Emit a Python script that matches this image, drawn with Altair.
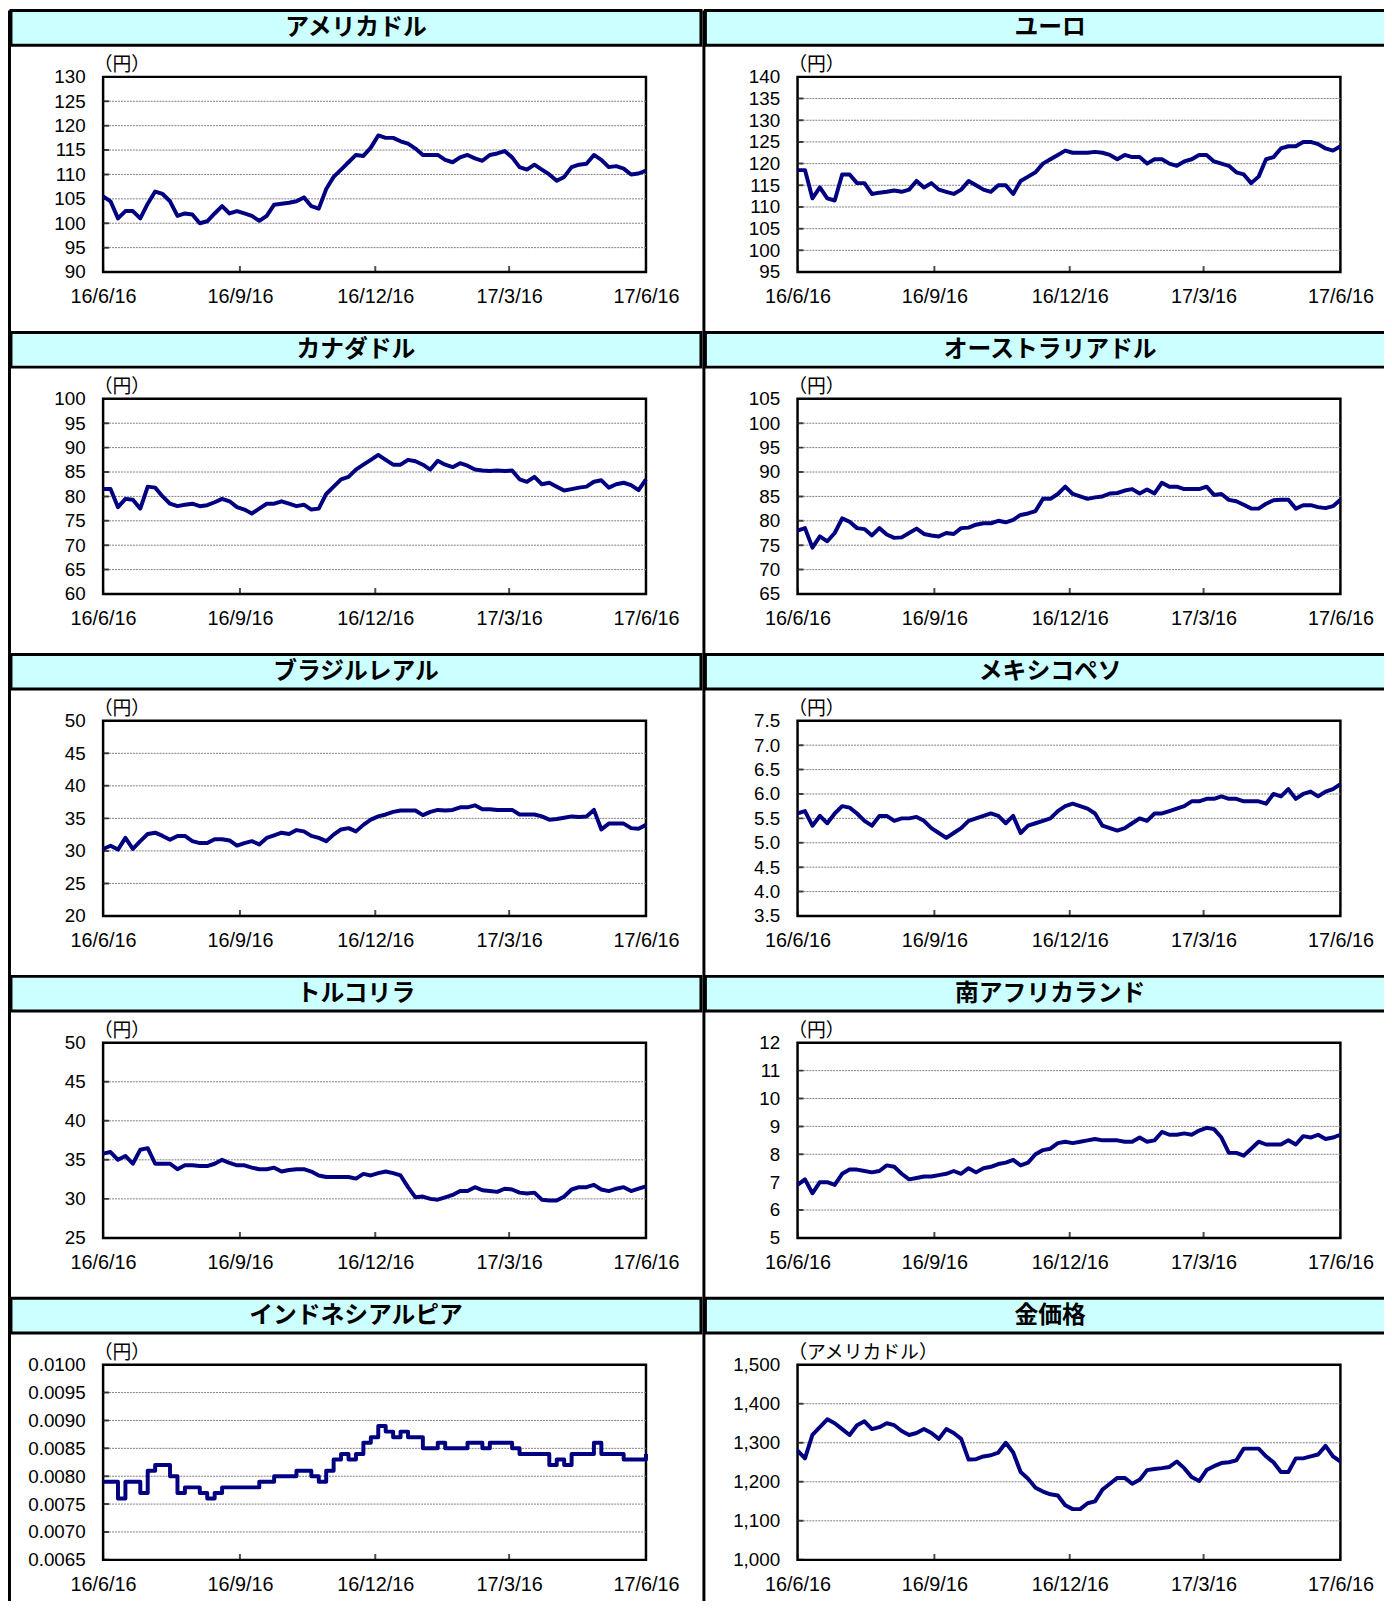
import altair as alt
import pandas as pd

JP = "Noto Sans CJK JP"
NUM = "Liberation Sans"

DATES = pd.date_range("2016-06-16", "2017-06-16", freq="5D").strftime("%Y/%m/%d").tolist()
XTICK_STR = ["2016/06/16", "2016/09/16", "2016/12/16", "2017/03/16", "2017/06/16"]
XTICKS = [alt.DateTime(year=2016, month=6, date=16), alt.DateTime(year=2016, month=9, date=16),
          alt.DateTime(year=2016, month=12, date=16), alt.DateTime(year=2017, month=3, date=16),
          alt.DateTime(year=2017, month=6, date=16)]

usd = [105.5, 104.5, 101, 102.5, 102.5, 101, 104, 106.5, 106, 104.5,
       101.5, 102, 101.8, 100, 100.4, 102, 103.5, 102, 102.5, 102,
       101.5, 100.5, 101.5, 103.8, 104, 104.2, 104.5, 105.3, 103.5, 103,
       107, 109.5, 111, 112.5, 114, 113.8, 115.5, 118, 117.5, 117.5,
       116.8, 116.3, 115.3, 114, 114, 114, 113, 112.5, 113.5, 114,
       113.3, 112.8, 114, 114.3, 114.8, 113.5, 111.5, 111, 112, 111,
       110, 108.7, 109.5, 111.5, 112, 112.2, 114, 113, 111.5, 111.7,
       111.2, 110, 110.2, 110.8]
eur = [118.5, 118.5, 112, 114.5, 112, 111.5, 117.5, 117.5, 115.5, 115.5,
       113, 113.3, 113.5, 113.8, 113.5, 114, 116, 114.5, 115.5, 114,
       113.5, 113, 114, 116, 115, 114, 113.5, 115, 115, 113,
       116, 117, 118, 120, 121, 122, 123, 122.5, 122.5, 122.5,
       122.7, 122.5, 122, 121, 122, 121.5, 121.5, 120, 121, 121,
       120, 119.5, 120.5, 121, 122, 122, 120.5, 120, 119.5, 118,
       117.5, 115.5, 117, 121, 121.5, 123.5, 124, 124, 125, 125,
       124.5, 123.5, 123, 124]
cad = [81.5, 81.5, 77.8, 79.5, 79.3, 77.5, 82, 81.8, 80, 78.5,
       78, 78.3, 78.5, 78, 78.2, 78.8, 79.5, 79, 77.8, 77.3,
       76.5, 77.5, 78.5, 78.5, 79, 78.5, 78, 78.3, 77.3, 77.5,
       80.5, 82, 83.5, 84, 85.5, 86.5, 87.5, 88.5, 87.5, 86.5,
       86.5, 87.5, 87.2, 86.5, 85.5, 87.3, 86.5, 86, 86.8, 86.3,
       85.5, 85.3, 85.2, 85.3, 85.2, 85.3, 83.5, 83, 84, 82.5,
       82.8, 82, 81.2, 81.5, 81.8, 82, 83, 83.3, 81.8, 82.5,
       82.8, 82.3, 81.3, 83.5]
aud = [78, 78.5, 74.5, 76.8, 75.8, 77.5, 80.5, 79.8, 78.5, 78.3,
       77, 78.5, 77.2, 76.5, 76.6, 77.5, 78.4, 77.3, 77, 76.8,
       77.5, 77.3, 78.5, 78.6, 79.2, 79.5, 79.5, 80, 79.7, 80.2,
       81.2, 81.5, 82, 84.5, 84.5, 85.5, 87, 85.5, 85, 84.5,
       84.8, 85, 85.6, 85.7, 86.2, 86.5, 85.6, 86.4, 85.6, 87.8,
       87, 87, 86.5, 86.5, 86.5, 87, 85.3, 85.5, 84.3, 84,
       83.3, 82.5, 82.5, 83.5, 84.2, 84.3, 84.3, 82.5, 83.2, 83.2,
       82.8, 82.6, 83, 84.3]
brl = [30.3, 30.8, 30.2, 32, 30.3, 31.5, 32.6, 32.8, 32.3, 31.7,
       32.3, 32.3, 31.5, 31.2, 31.2, 31.8, 31.8, 31.6, 30.8, 31.2,
       31.5, 31, 32, 32.4, 32.8, 32.6, 33.2, 33, 32.3, 32,
       31.5, 32.5, 33.3, 33.5, 33, 34, 34.8, 35.3, 35.6, 36,
       36.2, 36.2, 36.2, 35.5, 36, 36.3, 36.2, 36.3, 36.7, 36.7,
       37, 36.4, 36.4, 36.3, 36.3, 36.3, 35.6, 35.6, 35.6, 35.3,
       34.8, 34.9, 35.1, 35.3, 35.2, 35.3, 36.3, 33.3, 34.2, 34.2,
       34.2, 33.5, 33.4, 34]
mxn = [5.6, 5.65, 5.35, 5.55, 5.4, 5.6, 5.75, 5.72, 5.6, 5.45,
       5.35, 5.55, 5.55, 5.45, 5.5, 5.5, 5.53, 5.45, 5.3, 5.2,
       5.1, 5.2, 5.3, 5.45, 5.5, 5.55, 5.6, 5.55, 5.4, 5.55,
       5.2, 5.35, 5.4, 5.45, 5.5, 5.65, 5.75, 5.8, 5.75, 5.7,
       5.6, 5.35, 5.3, 5.25, 5.3, 5.4, 5.5, 5.45, 5.6, 5.6,
       5.65, 5.7, 5.75, 5.85, 5.85, 5.9, 5.9, 5.95, 5.9, 5.9,
       5.85, 5.85, 5.85, 5.8, 6.0, 5.95, 6.1, 5.9, 6.0, 6.05,
       5.95, 6.05, 6.1, 6.2]
tryl = [35.8, 36, 35, 35.5, 34.5, 36.3, 36.5, 34.5, 34.5, 34.5,
        33.8, 34.3, 34.3, 34.2, 34.2, 34.5, 35, 34.6, 34.3, 34.3,
        34, 33.8, 33.8, 34, 33.5, 33.7, 33.8, 33.8, 33.5, 33,
        32.8, 32.8, 32.8, 32.8, 32.6, 33.2, 33, 33.3, 33.5, 33.3,
        33, 31.5, 30.2, 30.3, 30, 29.9, 30.2, 30.5, 31, 31,
        31.5, 31.1, 31, 30.9, 31.3, 31.2, 30.8, 30.7, 30.8, 29.9,
        29.8, 29.8, 30.3, 31.2, 31.5, 31.5, 31.8, 31.2, 31, 31.3,
        31.5, 31, 31.3, 31.6]
zar = [6.9, 7.1, 6.6, 7.0, 7.0, 6.9, 7.3, 7.45, 7.45, 7.4,
       7.35, 7.4, 7.6, 7.55, 7.3, 7.1, 7.15, 7.2, 7.2, 7.25,
       7.3, 7.4, 7.3, 7.5, 7.35, 7.5, 7.55, 7.65, 7.7, 7.8,
       7.6, 7.7, 8.0, 8.15, 8.2, 8.4, 8.45, 8.4, 8.45, 8.5,
       8.55, 8.5, 8.5, 8.5, 8.45, 8.45, 8.6, 8.45, 8.5, 8.8,
       8.7, 8.7, 8.75, 8.7, 8.85, 8.95, 8.9, 8.6, 8.05, 8.05,
       7.95, 8.2, 8.45, 8.35, 8.35, 8.35, 8.5, 8.35, 8.65, 8.6,
       8.7, 8.55, 8.6, 8.7]
idr = [0.0079, 0.0079, 0.0076, 0.0079, 0.0079, 0.0077, 0.0081, 0.0082, 0.0082, 0.0080,
       0.0077, 0.0078, 0.0078, 0.0077, 0.0076, 0.0077, 0.0078, 0.0078, 0.0078, 0.0078,
       0.0078, 0.0079, 0.0079, 0.0080, 0.0080, 0.0080, 0.0081, 0.0081, 0.0080, 0.0079,
       0.0081, 0.0083, 0.0084, 0.0083, 0.0084, 0.0086, 0.0087, 0.0089, 0.0088, 0.0087,
       0.0088, 0.0087, 0.0087, 0.0085, 0.0085, 0.0086, 0.0085, 0.0085, 0.0085, 0.0086,
       0.0086, 0.0085, 0.0086, 0.0086, 0.0086, 0.0085, 0.0084, 0.0084, 0.0084, 0.0084,
       0.0082, 0.0083, 0.0082, 0.0084, 0.0084, 0.0084, 0.0086, 0.0084, 0.0084, 0.0084,
       0.0083, 0.0083, 0.0083, 0.0084]
gold = [1280, 1260, 1320, 1340, 1360, 1350, 1335, 1320, 1345, 1355,
        1335, 1340, 1350, 1345, 1330, 1320, 1325, 1335, 1325, 1310,
        1335, 1325, 1310, 1257, 1258, 1265, 1268, 1275, 1300, 1275,
        1225, 1208, 1185, 1175, 1168, 1165, 1140, 1130, 1130, 1145,
        1150, 1180, 1195, 1210, 1210, 1195, 1205, 1230, 1233, 1235,
        1238, 1252, 1235, 1212, 1202, 1230, 1240, 1248, 1250, 1255,
        1285, 1285, 1285, 1265, 1250, 1225, 1225, 1260, 1260, 1265,
        1270, 1292, 1265, 1252]

T_USD = [90, 95, 100, 105, 110, 115, 120, 125, 130]
T_EUR = [95, 100, 105, 110, 115, 120, 125, 130, 135, 140]
T_CAD = [60, 65, 70, 75, 80, 85, 90, 95, 100]
T_AUD = [65, 70, 75, 80, 85, 90, 95, 100, 105]
T_BRL = [20, 25, 30, 35, 40, 45, 50]
T_MXN = [3.5, 4.0, 4.5, 5.0, 5.5, 6.0, 6.5, 7.0, 7.5]
T_TRY = [25, 30, 35, 40, 45, 50]
T_ZAR = [5, 6, 7, 8, 9, 10, 11, 12]
T_IDR = [0.0065, 0.0070, 0.0075, 0.0080, 0.0085, 0.0090, 0.0095, 0.0100]
T_GOLD = [1000, 1100, 1200, 1300, 1400, 1500]

PANELS = [
    ("アメリカドル", "（円）", usd, T_USD, "d", "linear"),
    ("ユーロ", "（円）", eur, T_EUR, "d", "linear"),
    ("カナダドル", "（円）", cad, T_CAD, "d", "linear"),
    ("オーストラリアドル", "（円）", aud, T_AUD, "d", "linear"),
    ("ブラジルレアル", "（円）", brl, T_BRL, "d", "linear"),
    ("メキシコペソ", "（円）", mxn, T_MXN, ".1f", "linear"),
    ("トルコリラ", "（円）", tryl, T_TRY, "d", "linear"),
    ("南アフリカランド", "（円）", zar, T_ZAR, "d", "linear"),
    ("インドネシアルピア", "（円）", idr, T_IDR, ".4f", "step-after"),
    ("金価格", "（アメリカドル）", gold, T_GOLD, ",d", "linear"),
]

PLOT_W, PLOT_H = 548, 197
HEAD_H = 35
BLANK = pd.DataFrame({"t": [""]})


def spacer(w, h, fill="transparent"):
    return alt.Chart(BLANK).mark_text(opacity=0).encode(text="t:N").properties(
        width=w, height=h,
        view=alt.ViewBackground(fill=fill, stroke="transparent", strokeWidth=0))


def header(name, w, dx):
    return alt.Chart(pd.DataFrame({"t": [name]})).mark_text(
        font=JP, fontSize=24, fontWeight="bold", color="black", dx=dx
    ).encode(text="t:N").properties(
        width=w, height=HEAD_H,
        view=alt.ViewBackground(fill="#CCFFFF", stroke="black", strokeWidth=3))


def body(unit, vals, ticks, fmt, interp):
    lo, hi = ticks[0], ticks[-1]
    xenc = alt.X("d:T", title=None,
                 scale=alt.Scale(domain=[XTICKS[0], XTICKS[-1]], nice=False),
                 axis=alt.Axis(values=XTICKS, format="%y/%-m/%-d", labelFlush=False,
                               labelOverlap=False, ticks=False, tickSize=0, domain=False,
                               grid=False, labelPadding=15, labelFont=NUM, labelFontSize=20,
                               labelColor="black"))
    yenc = alt.Y("v:Q", title=unit,
                 scale=alt.Scale(domain=[lo, hi], nice=False, zero=False),
                 axis=alt.Axis(values=ticks, format=fmt, labelFlush=False, labelOverlap=False,
                               ticks=False, tickSize=0, domain=False, grid=False,
                               labelPadding=18, labelFont=NUM, labelFontSize=19,
                               labelColor="black", minExtent=90, maxExtent=90,
                               titleAngle=0, titleAlign="left", titleBaseline="bottom",
                               titleX=-10, titleY=-2, titleFont=JP, titleFontSize=19,
                               titleFontWeight="normal", titleColor="black", titlePadding=0))
    grid = alt.Chart(pd.DataFrame({"v": ticks[1:-1]})).mark_rule(
        color="#808080", strokeWidth=1, strokeDash=[2, 1]).encode(y=yenc)
    yt = alt.Chart(pd.DataFrame({"d": [DATES[0]] * len(ticks), "v": ticks})).mark_tick(
        orient="horizontal", size=12, thickness=2, color="black", clip=True
    ).encode(x=xenc, y=yenc)
    xt = alt.Chart(pd.DataFrame({"d": XTICK_STR, "v": [lo] * len(XTICK_STR)})).mark_tick(
        orient="vertical", size=12, thickness=2, color="black", clip=True
    ).encode(x=xenc, y=yenc)
    line = alt.Chart(pd.DataFrame({"d": DATES, "v": vals})).mark_line(
        color="#000080", strokeWidth=4, interpolate=interp, strokeJoin="round"
    ).encode(x=xenc, y=yenc)
    return alt.layer(grid, yt, xt, line).properties(
        width=PLOT_W, height=PLOT_H,
        view=alt.ViewBackground(fill="white", stroke="black", strokeWidth=2.5))


def cell(p, head_w, dx):
    name, unit, vals, ticks, fmt, interp = p
    row = alt.hconcat(spacer(1, 10), body(unit, vals, ticks, fmt, interp), spacing=0)
    return alt.vconcat(header(name, head_w, dx), row, spacing=7)


left = alt.vconcat(*[cell(PANELS[i], 696.5, 0) for i in range(0, 10, 2)], spacing=22)
right = alt.vconcat(*[cell(PANELS[i], 696, 0) for i in range(1, 10, 2)], spacing=22)

VLINE_H = 1650
chart = alt.hconcat(spacer(3, VLINE_H, "black"), left, spacer(3, VLINE_H, "black"), right,
                    spacing=-3).properties(
    padding={"top": -7, "left": 0, "right": -13, "bottom": -52},
    background="white")

chart.save("out.html", embed_options={"renderer": "svg", "actions": False})
